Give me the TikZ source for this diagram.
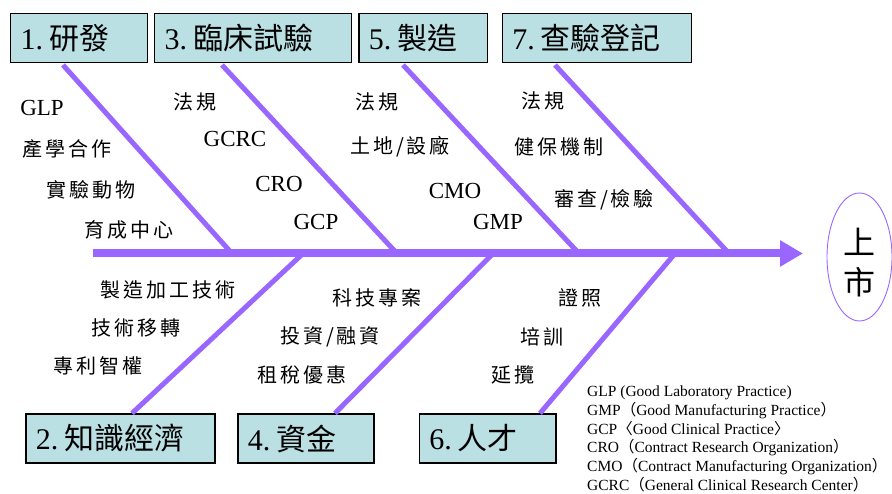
\documentclass[tikz,border=0pt]{standalone}
\usepackage{fontspec}
\setmainfont{Liberation Serif}
\newfontfamily\cjk{Noto Sans CJK TC}
\newfontfamily\cjkl[LetterSpace=15]{Noto Sans CJK TC}
\usetikzlibrary{arrows.meta,shapes.geometric}
\definecolor{bonecol}{RGB}{153,102,255}
\definecolor{boxfill}{RGB}{186,224,228}
\tikzset{
  titlebox/.style={draw=black, line width=1.3pt, fill=boxfill, anchor=north west,
    minimum height=49pt, inner xsep=10pt, inner ysep=0pt, align=left,
    font=\fontsize{30}{32}\selectfont},
  bone/.style={draw=bonecol, line width=5pt},
  spine/.style={draw=bonecol, line width=8pt, -{Triangle[length=23pt,width=25pt]}},
  cjklab/.style={font=\fontsize{20}{22}\selectfont\cjkl, inner sep=0pt},
  latlab/.style={font=\fontsize{23}{25}\selectfont, inner sep=0pt},
  legend/.style={font=\fontsize{15.5}{18}\selectfont, anchor=base west, inner sep=0pt},
  bigch/.style={font=\fontsize{32}{34}\selectfont\cjk, inner sep=0pt}
}
\begin{document}
\begin{tikzpicture}[x=1pt,y=-1pt]
\useasboundingbox (0,0) rectangle (892,494);

% title boxes
\node[titlebox, text width=116.7pt] (t1) at (10,12.7) {1.\hspace{6pt}{\cjk 研發}};
\node[titlebox, text width=176.7pt] (t3) at (154,12.7) {3.\hspace{6pt}{\cjk 臨床試驗}};
\node[titlebox, text width=108.4pt] (t5) at (358.3,12.7) {5.\hspace{6pt}{\cjk 製造}};
\node[titlebox, text width=169.3pt] (t7) at (501.7,12.7) {7.\hspace{6pt}{\cjk 查驗登記}};
\node[titlebox, text width=169pt] (t2) at (25.3,413.3) {2.\hspace{6pt}{\cjk 知識經濟}};
\node[titlebox, text width=116pt] (t4) at (237.3,413.3) {4.\hspace{6pt}{\cjk 資金}};
\node[titlebox, text width=116.6pt] (t6) at (418.7,413.3) {6.\hspace{6pt}{\cjk 人才}};

% coordinates of the bones
\coordinate (spS) at (93,253.5);
\coordinate (spE) at (803,253.5);
\coordinate (b1t) at (63,65);   \coordinate (b1s) at (232,253.5);
\coordinate (b3t) at (222,65);  \coordinate (b3s) at (397,253.5);
\coordinate (b5t) at (403,65);  \coordinate (b5s) at (579,253.5);
\coordinate (b7t) at (555,65);  \coordinate (b7s) at (729,253.5);
\coordinate (b2s) at (303,253.5); \coordinate (b2b) at (132,413.3);
\coordinate (b4s) at (493,253.5); \coordinate (b4b) at (335,413.3);
\coordinate (b6s) at (675,253.5); \coordinate (b6b) at (540,413.3);

\draw[bone] (b1t) -- (b1s);
\draw[bone] (b3t) -- (b3s);
\draw[bone] (b5t) -- (b5s);
\draw[bone] (b7t) -- (b7s);
\draw[bone] (b2s) -- (b2b);
\draw[bone] (b4s) -- (b4b);
\draw[bone] (b6s) -- (b6b);
\draw[spine] (spS) -- (spE);

% target
\node[draw=bonecol, line width=0.9pt, ellipse, minimum width=65pt, minimum height=128pt, inner sep=0pt] (goal) at (859.5,257) {};
\node[bigch] (g1) at (859,242) {上};
\node[bigch] (g2) at (859,282) {市};

% labels group 1
\node[latlab] (l11) at (42,108) {GLP};
\node[cjklab] (l12) at (67,149) {產學合作};
\node[cjklab] (l13) at (91,190) {實驗動物};
\node[cjklab] (l14) at (129,230) {育成中心};
% group 3
\node[cjklab] (l31) at (195,102) {法規};
\node[latlab] (l32) at (235,139) {GCRC};
\node[latlab] (l33) at (279,184) {CRO};
\node[latlab] (l34) at (316,222) {GCP};
% group 5
\node[cjklab] (l51) at (377,102) {法規};
\node[cjklab] (l52) at (400,147) {土地/設廠};
\node[latlab] (l53) at (455,191) {CMO};
\node[latlab] (l54) at (498,222) {GMP};
% group 7
\node[cjklab] (l71) at (543,101) {法規};
\node[cjklab] (l72) at (559,147) {健保機制};
\node[cjklab] (l73) at (604,200) {審查/檢驗};
% group 2
\node[cjklab] (l21) at (168,290) {製造加工技術};
\node[cjklab] (l22) at (136,328) {技術移轉};
\node[cjklab] (l23) at (98,366) {專利智權};
% group 4
\node[cjklab] (l41) at (377,298) {科技專案};
\node[cjklab] (l42) at (330,337) {投資/融資};
\node[cjklab] (l43) at (302,375) {租稅優惠};
% group 6
\node[cjklab] (l61) at (580,298) {證照};
\node[cjklab] (l62) at (542,337) {培訓};
\node[cjklab] (l63) at (513,375) {延攬};

% legend
\node[legend] (k1) at (587,396.7) {GLP (Good Laboratory Practice)};
\node[legend] (k2) at (587,415.4) {GMP{\cjk （}Good Manufacturing Practice{\cjk ）}};
\node[legend] (k3) at (587,434.1) {GCP{\cjk 〈}Good Clinical Practice{\cjk 〉}};
\node[legend] (k4) at (587,452.8) {CRO{\cjk （}Contract Research Organization{\cjk ）}};
\node[legend] (k5) at (587,471.5) {CMO{\cjk （}Contract Manufacturing Organization{\cjk ）}};
\node[legend] (k6) at (587,490.2) {GCRC{\cjk （}General Clinical Research Center{\cjk ）}};
\end{tikzpicture}
\end{document}
